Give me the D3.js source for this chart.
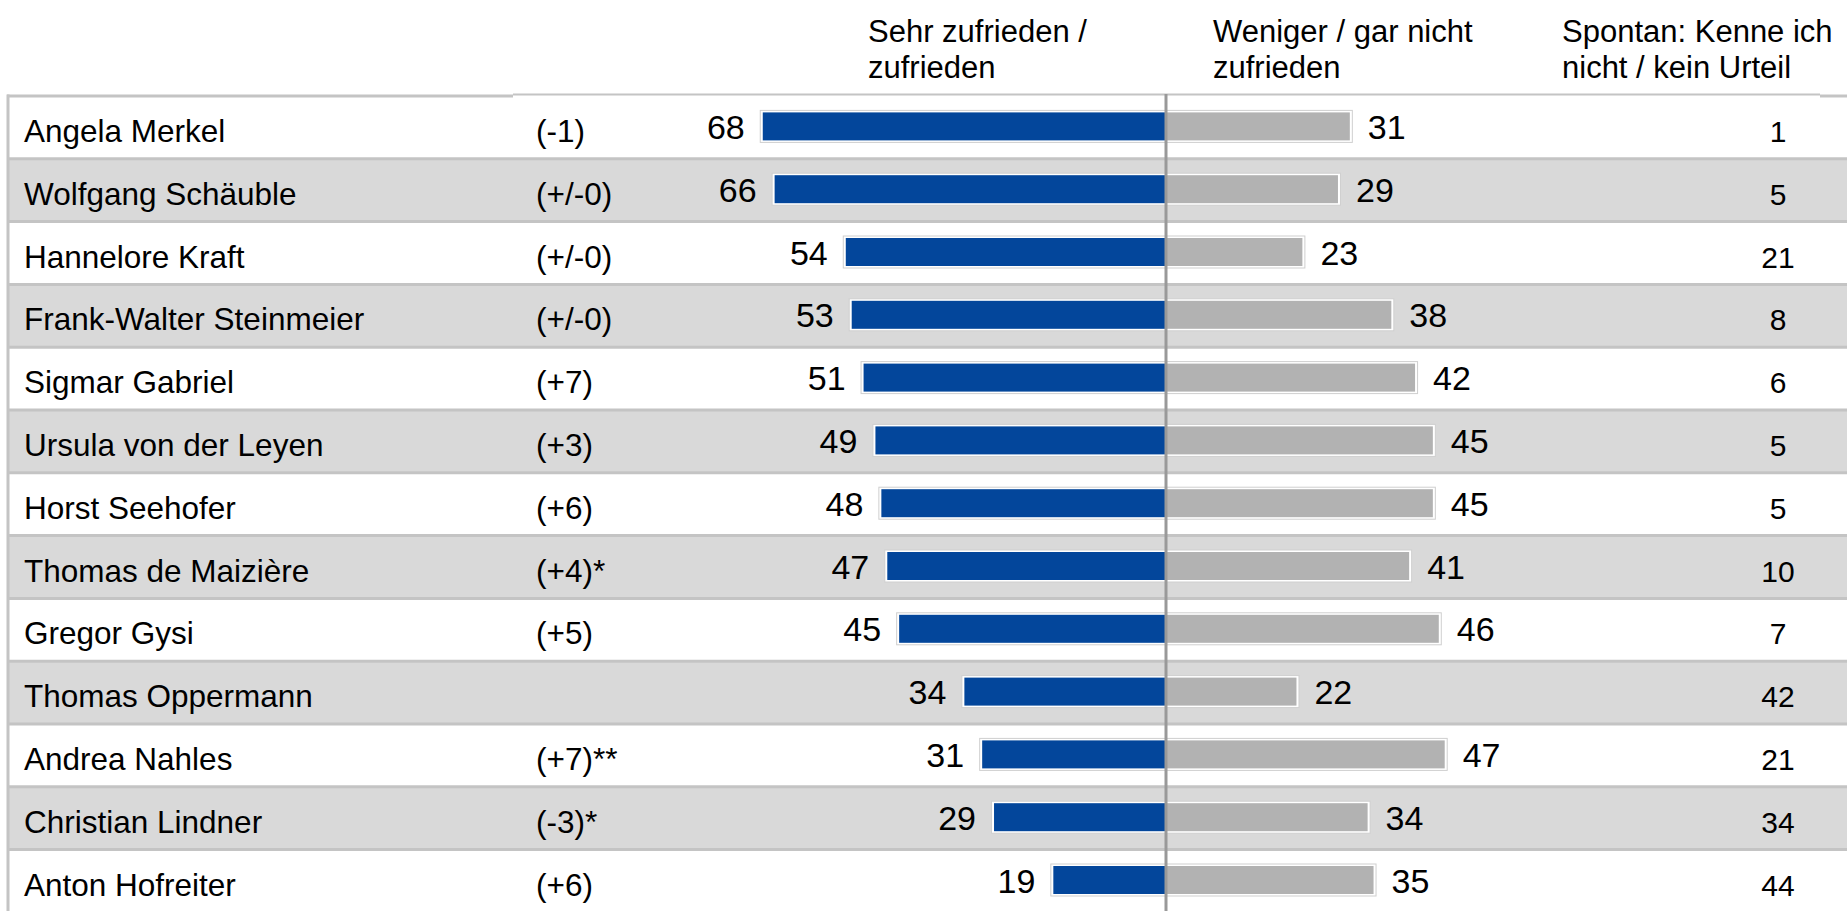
<!DOCTYPE html>
<html>
<head>
<meta charset="utf-8">
<script src="https://cdn.jsdelivr.net/npm/d3@7"></script>
<style>
  body { margin: 0; background: #fff; }
  text { font-family: Arial, "Liberation Sans", sans-serif; fill: #000; }
</style>
</head>
<body>
<div id="chart"></div>
<script>
// data
const names = ["Angela Merkel", "Wolfgang Schäuble", "Hannelore Kraft", "Frank-Walter Steinmeier",
  "Sigmar Gabriel", "Ursula von der Leyen", "Horst Seehofer", "Thomas de Maizière",
  "Gregor Gysi", "Thomas Oppermann", "Andrea Nahles", "Christian Lindner", "Anton Hofreiter"];
const changes = ["(-1)", "(+/-0)", "(+/-0)", "(+/-0)", "(+7)", "(+3)", "(+6)", "(+4)*",
  "(+5)", "", "(+7)**", "(-3)*", "(+6)"];
const satisfied = [68, 66, 54, 53, 51, 49, 48, 47, 45, 34, 31, 29, 19];
const dissatisfied = [31, 29, 23, 38, 42, 45, 45, 41, 46, 22, 47, 34, 35];
const unknown = [1, 5, 21, 8, 6, 5, 5, 10, 7, 42, 21, 34, 44];
const headers = [
  ["Sehr zufrieden /", "zufrieden"],
  ["Weniger / gar nicht", "zufrieden"],
  ["Spontan: Kenne ich", "nicht / kein Urteil"]
];

const width = 1847, height = 911;
const topY = 96, rowH = 62.8;
const center = 1166;

const svg = d3.select("#chart").append("svg")
  .attr("width", width)
  .attr("height", height);

// row band scale
const y = d3.scaleBand()
  .domain(names)
  .range([topY, topY + rowH * names.length])
  .padding(0);

// bar length scale (percent -> px)
const x = d3.scaleLinear().domain([0, 100]).range([0, 593]);

const rows = names.map((n, i) => ({
  name: n, change: changes[i], pos: satisfied[i], neg: dissatisfied[i], unk: unknown[i], i: i
}));

// row backgrounds
svg.selectAll(".rowbg")
  .data(rows)
  .enter()
  .append("rect")
  .attr("x", 8)
  .attr("y", d => y(d.name))
  .attr("width", width - 8)
  .attr("height", y.bandwidth())
  .attr("fill", d => d.i % 2 === 1 ? "#d9d9d9" : "#ffffff");

// row separators
svg.selectAll(".sep")
  .data(rows.slice(1))
  .enter()
  .append("line")
  .attr("x1", 8)
  .attr("x2", width)
  .attr("y1", d => y(d.name))
  .attr("y2", d => y(d.name))
  .attr("stroke", "#c4c4c4")
  .attr("stroke-width", 3);

// top border (slightly stepped like the original)
svg.append("line").attr("x1", 7).attr("x2", 513).attr("y1", topY).attr("y2", topY)
  .attr("stroke", "#c4c4c4").attr("stroke-width", 3);
svg.append("line").attr("x1", 513).attr("x2", 1820).attr("y1", topY - 1.5).attr("y2", topY - 1.5)
  .attr("stroke", "#c4c4c4").attr("stroke-width", 2);
svg.append("line").attr("x1", 1820).attr("x2", width).attr("y1", topY).attr("y2", topY)
  .attr("stroke", "#c4c4c4").attr("stroke-width", 3);

// left border
svg.append("line").attr("x1", 8).attr("x2", 8).attr("y1", topY - 1.5).attr("y2", height)
  .attr("stroke", "#c4c4c4").attr("stroke-width", 3);

// headers
const headerX = [868, 1213, 1562];
headers.forEach((lines, k) => {
  const t = svg.append("text")
    .attr("x", headerX[k])
    .attr("y", 42)
    .style("font-size", "31px");
  lines.forEach((l, j) => {
    t.append("tspan").attr("x", headerX[k]).attr("dy", j === 0 ? 0 : 36).text(l);
  });
});

const barH = 28;
const rowMid = d => y(d.name) + y.bandwidth() / 2 - 1;

// bar frames (thin grey outline with white gap)
function frame(sel, xf, wf) {
  sel.append("rect")
    .attr("x", xf)
    .attr("y", d => rowMid(d) - barH / 2 - 2)
    .attr("width", wf)
    .attr("height", barH + 4)
    .attr("fill", "#fff")
    .attr("stroke", "#cfcfcf")
    .attr("stroke-width", 1);
}

const g = svg.selectAll(".row")
  .data(rows)
  .enter()
  .append("g");

frame(g, d => center - x(d.pos) - 2.5, d => x(d.pos) + 2.5);
frame(g, center, d => x(d.neg) + 2.5);

g.append("rect")
  .attr("x", d => center - x(d.pos))
  .attr("y", d => rowMid(d) - barH / 2)
  .attr("width", d => x(d.pos))
  .attr("height", barH)
  .attr("fill", "#03469b");

g.append("rect")
  .attr("x", center)
  .attr("y", d => rowMid(d) - barH / 2)
  .attr("width", d => x(d.neg))
  .attr("height", barH)
  .attr("fill", "#b2b2b2");

// names
g.append("text")
  .attr("x", 24)
  .attr("y", d => rowMid(d) + 15.5)
  .style("font-size", "31.5px")
  .text(d => d.name);

// change column
g.append("text")
  .attr("x", 536)
  .attr("y", d => rowMid(d) + 15.5)
  .style("font-size", "31.5px")
  .text(d => d.change);

// value labels
g.append("text")
  .attr("x", d => center - x(d.pos) - 18)
  .attr("y", d => rowMid(d) + 12.5)
  .attr("text-anchor", "end")
  .style("font-size", "34px")
  .text(d => d.pos);

g.append("text")
  .attr("x", d => center + x(d.neg) + 18)
  .attr("y", d => rowMid(d) + 12.5)
  .style("font-size", "34px")
  .text(d => d.neg);

g.append("text")
  .attr("x", 1778)
  .attr("y", d => rowMid(d) + 15.5)
  .attr("text-anchor", "middle")
  .style("font-size", "30px")
  .text(d => d.unk);

// centre axis line
svg.append("line")
  .attr("x1", center).attr("x2", center)
  .attr("y1", topY - 2).attr("y2", height)
  .attr("stroke", "#999")
  .attr("stroke-width", 3);
</script>
</body>
</html>
